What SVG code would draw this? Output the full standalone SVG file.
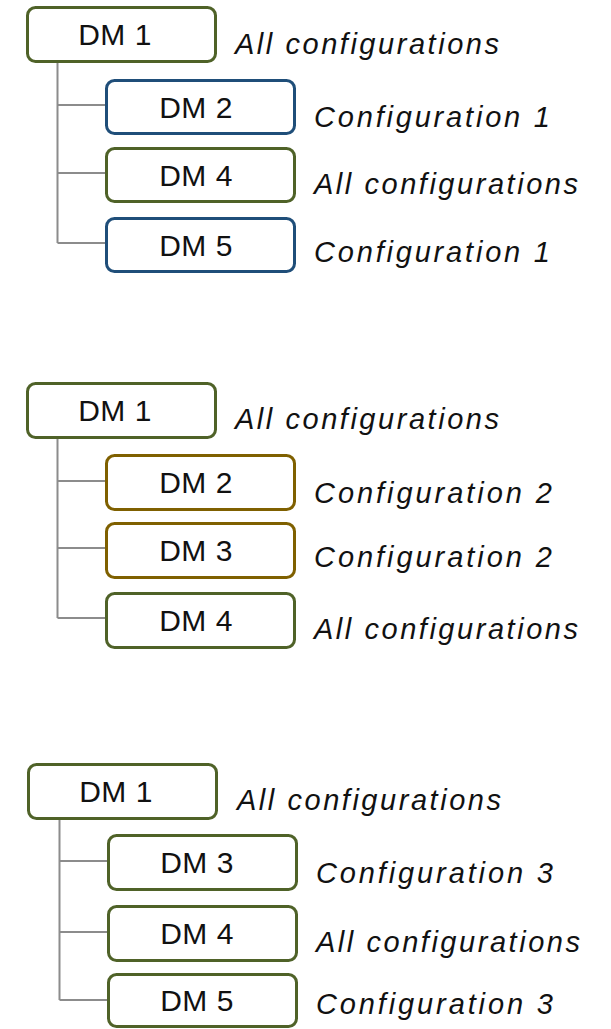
<svg xmlns="http://www.w3.org/2000/svg" width="611" height="1029" viewBox="0 0 611 1029">
<style>
.box{fill:#fff;stroke-width:3}
.g{stroke:#4F6228}
.b{stroke:#1F4E79}
.y{stroke:#7F6000}
.dm{font-family:"Liberation Sans",Arial,sans-serif;font-size:30px;fill:#111;text-anchor:middle;letter-spacing:0.5px}
.lb{font-family:"Liberation Sans",Arial,sans-serif;font-size:29px;font-style:italic;fill:#111}
.c{stroke:#8C8C8C;stroke-width:2;fill:none}
</style>
<rect width="611" height="1029" fill="#fff"/>
<g id="connectors">
<path class="c" d="M57.5 62V243M57.5 105H106M57.5 173H106M57.5 243H106"/>
<path class="c" d="M57.5 439V618M57.5 481H106M57.5 548H106M57.5 618H106"/>
<path class="c" d="M59.5 819V1000M59.5 861H108M59.5 932H108M59.5 1000H108"/>
</g>
<g id="a-dm1"><rect class="box g" x="27.5" y="7.5" width="188" height="54" rx="8"/><text class="dm" x="115" y="45">DM 1</text><text class="lb" x="235" y="54" textLength="264">All configurations</text></g>
<g id="a-dm2"><rect class="box b" x="106.5" y="80.5" width="188" height="53" rx="8"/><text class="dm" x="196" y="118">DM 2</text><text class="lb" x="314" y="127" textLength="236">Configuration 1</text></g>
<g id="a-dm4"><rect class="box g" x="106.5" y="148.5" width="188" height="53" rx="8"/><text class="dm" x="196" y="186">DM 4</text><text class="lb" x="314" y="194" textLength="264">All configurations</text></g>
<g id="a-dm5"><rect class="box b" x="106.5" y="218.5" width="188" height="53" rx="8"/><text class="dm" x="196" y="256">DM 5</text><text class="lb" x="314" y="262" textLength="236">Configuration 1</text></g>

<g id="b-dm1"><rect class="box g" x="27.5" y="383.5" width="188" height="54" rx="8"/><text class="dm" x="115" y="421">DM 1</text><text class="lb" x="235" y="429" textLength="264">All configurations</text></g>
<g id="b-dm2"><rect class="box y" x="106.5" y="455.5" width="188" height="54" rx="8"/><text class="dm" x="196" y="493">DM 2</text><text class="lb" x="314" y="503" textLength="238">Configuration 2</text></g>
<g id="b-dm3"><rect class="box y" x="106.5" y="523.5" width="188" height="54" rx="8"/><text class="dm" x="196" y="561">DM 3</text><text class="lb" x="314" y="567" textLength="238">Configuration 2</text></g>
<g id="b-dm4"><rect class="box g" x="106.5" y="593.5" width="188" height="54" rx="8"/><text class="dm" x="196" y="631">DM 4</text><text class="lb" x="314" y="639" textLength="264">All configurations</text></g>

<g id="c-dm1"><rect class="box g" x="28.5" y="764.5" width="188" height="54" rx="8"/><text class="dm" x="116" y="802">DM 1</text><text class="lb" x="237" y="810" textLength="264">All configurations</text></g>
<g id="c-dm3"><rect class="box g" x="108.5" y="835.5" width="188" height="54" rx="8"/><text class="dm" x="197" y="873">DM 3</text><text class="lb" x="316" y="883" textLength="237">Configuration 3</text></g>
<g id="c-dm4"><rect class="box g" x="108.5" y="906.5" width="188" height="54" rx="8"/><text class="dm" x="197" y="944">DM 4</text><text class="lb" x="316" y="952" textLength="264">All configurations</text></g>
<g id="c-dm5"><rect class="box g" x="108.5" y="974.5" width="188" height="52" rx="8"/><text class="dm" x="197" y="1011">DM 5</text><text class="lb" x="316" y="1014" textLength="237">Configuration 3</text></g>
</svg>
